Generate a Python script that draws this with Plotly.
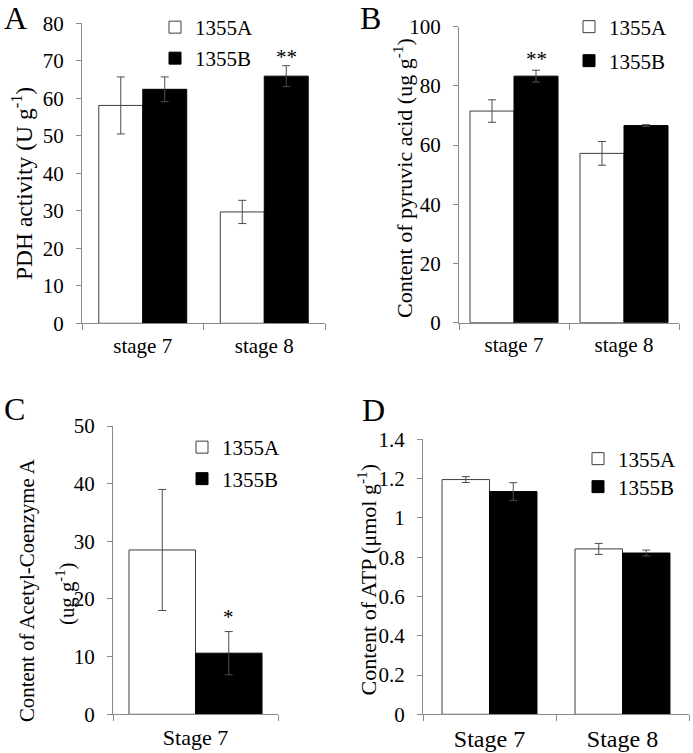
import plotly.graph_objects as go

# ---------------- data ----------------
stages_ab = ["stage 7", "stage 8"]
pdh_1355A = [58.1, 29.7]
pdh_1355A_err = [7.6, 3.1]
pdh_1355B = [62.4, 65.9]
pdh_1355B_err = [3.3, 2.8]

pyr_1355A = [71.5, 57.2]
pyr_1355A_err = [3.8, 4.0]
pyr_1355B = [83.3, 66.6]
pyr_1355B_err = [2.0, 0.3]

stages_c = ["Stage 7"]
acoa_1355A = [28.5]
acoa_1355A_err = [10.5]
acoa_1355B = [10.6]
acoa_1355B_err = [3.75]

stages_d = ["Stage 7", "Stage 8"]
atp_1355A = [1.195, 0.842]
atp_1355A_err = [0.015, 0.028]
atp_1355B = [1.134, 0.821]
atp_1355B_err = [0.045, 0.015]

series_names = ["1355A", "1355B"]

# ---------------- style ----------------
FONT = "Times New Roman, Liberation Serif, Tinos, serif"
AXIS_COL = "#8a8a8a"
ERR_COL = "#4d4d4d"
W, H = 693, 753

fig = go.Figure()

panels = [
    ("x", "y", stages_ab, pdh_1355A, pdh_1355A_err, pdh_1355B, pdh_1355B_err, 0.362, ("legend", "legend2")),
    ("x2", "y2", stages_ab, pyr_1355A, pyr_1355A_err, pyr_1355B, pyr_1355B_err, 0.40, ("legend3", "legend4")),
    ("x3", "y3", stages_c, acoa_1355A, acoa_1355A_err, acoa_1355B, acoa_1355B_err, 0.403, ("legend5", "legend6")),
    ("x4", "y4", stages_d, atp_1355A, atp_1355A_err, atp_1355B, atp_1355B_err, 0.357, ("legend7", "legend8")),
]

for xa, ya, cats, a, ae, b, be, w, legs in panels:
    fig.add_trace(go.Bar(
        x=cats, y=a, name=series_names[0], xaxis=xa, yaxis=ya,
        width=w, offset=-w, legend=legs[0], showlegend=True,
        marker=dict(color="white", line=dict(color="#3c3c3c", width=1)),
        error_y=dict(type="data", array=ae, color=ERR_COL, thickness=1, width=4),
    ))
    fig.add_trace(go.Bar(
        x=cats, y=b, name=series_names[1], xaxis=xa, yaxis=ya,
        width=w, offset=0, legend=legs[1], showlegend=True,
        marker=dict(color="black", line=dict(color="black", width=1)),
        error_y=dict(type="data", array=be, color=ERR_COL, thickness=1, width=4),
    ))

def px_x(p):
    return p / W

def px_y(p):
    return 1 - p / H

xdoms = {
    "x": [px_x(82), px_x(325)],
    "x2": [px_x(459), px_x(679)],
    "x3": [px_x(113), px_x(278)],
    "x4": [px_x(423), px_x(689)],
}
ydoms = {
    "y": [px_y(323.3), px_y(23.3)],
    "y2": [px_y(322.7), px_y(26.7)],
    "y3": [px_y(714.3), px_y(426)],
    "y4": [px_y(714.3), px_y(439.3)],
}
yranges = {"y": ([0, 80], 10), "y2": ([0, 100], 20), "y3": ([0, 50], 10), "y4": ([0, 1.4], 0.2)}
xtick_size = {"x": 21, "x2": 21, "x3": 22, "x4": 24}

layout = dict(
    template="none",
    width=W, height=H,
    margin=dict(l=0, r=0, t=0, b=0, pad=0),
    paper_bgcolor="white", plot_bgcolor="white",
    barmode="overlay",
    showlegend=True,
    font=dict(family=FONT, size=21, color="black"),
)

for i, key in enumerate(["x", "x2", "x3", "x4"]):
    yk = "y" if i == 0 else f"y{i+1}"
    axname = "xaxis" if i == 0 else f"xaxis{i+1}"
    layout[axname] = dict(
        domain=xdoms[key], anchor=yk, type="category", automargin=False,
        showline=True, linecolor=AXIS_COL, linewidth=1,
        ticks="outside", tickson="boundaries", ticklen=6, tickcolor=AXIS_COL,
        showgrid=False, zeroline=False, ticklabelstandoff=3,
        tickfont=dict(family=FONT, size=xtick_size[key], color="black"),
        fixedrange=True,
    )
    yname = "yaxis" if i == 0 else f"yaxis{i+1}"
    rng, dt = yranges[yk]
    layout[yname] = dict(
        domain=ydoms[yk], anchor=key, range=rng, dtick=dt, tick0=0, automargin=False,
        showline=True, linecolor=AXIS_COL, linewidth=1,
        ticks="outside", ticklen=5, tickcolor=AXIS_COL,
        showgrid=False, zeroline=False,
        tickfont=dict(family=FONT, size=21, color="black"),
        ticklabelstandoff=8,
        fixedrange=True,
    )

# (text left px, row centre px)
legend_pos = {
    "legend": (192, 27.5), "legend2": (192, 58.5),
    "legend3": (606, 27), "legend4": (606, 61),
    "legend5": (219, 447.5), "legend6": (219, 479),
    "legend7": (615, 459), "legend8": (615, 487),
}
for k, (tx, ty) in legend_pos.items():
    layout[k] = dict(
        x=px_x(tx - 37), y=px_y(ty), xanchor="left", yanchor="middle",
        bgcolor="rgba(0,0,0,0)", borderwidth=0,
        font=dict(family=FONT, size=21, color="black"),
    )

fig.update_layout(**layout)

# y-axis titles (rotated labels beside each axis)
ytitles = [
    ("PDH activity (U g<sup>-1</sup>)", 22, 184, 23.5),
    ("Content of pyruvic acid (ug g<sup>-1</sup>)", 403, 178, 22),
    ("Content of Acetyl-Coenzyme A", 27, 591, 20.8),
    ("(ug g<sup>-1</sup>)", 65, 594, 20.8),
    ("Content of ATP (μmol g<sup>-1</sup>)", 366, 579.5, 22),
]
for txt, tx, ty, fs in ytitles:
    fig.add_annotation(x=px_x(tx), y=px_y(ty), xref="paper", yref="paper",
                       xanchor="center", yanchor="middle", textangle=-90,
                       text=txt, showarrow=False,
                       font=dict(family=FONT, size=fs, color="black"))

fig.add_annotation(x=1 + 0.362 / 2, y=71, xref="x", yref="y", text="**", showarrow=False,
                   font=dict(family=FONT, size=21, color="black"))
fig.add_annotation(x=0 + 0.40 / 2, y=89.0, xref="x2", yref="y2", text="**", showarrow=False,
                   font=dict(family=FONT, size=21, color="black"))
fig.add_annotation(x=0 + 0.403 / 2, y=16.8, xref="x3", yref="y3", text="*", showarrow=False,
                   font=dict(family=FONT, size=21, color="black"))

for letter, lx, ly in [("A", 3, 18), ("B", 359, 18), ("C", 3, 408.5), ("D", 361, 410)]:
    fig.add_annotation(x=px_x(lx), y=px_y(ly), xref="paper", yref="paper", xanchor="left",
                       yanchor="middle", text=letter, showarrow=False, borderpad=0,
                       font=dict(family=FONT, size=32, color="black"))

fig.write_html(
    "out.html",
    config={"displayModeBar": False},
    post_script="document.body.style.margin='0';document.body.style.padding='0';",
)
